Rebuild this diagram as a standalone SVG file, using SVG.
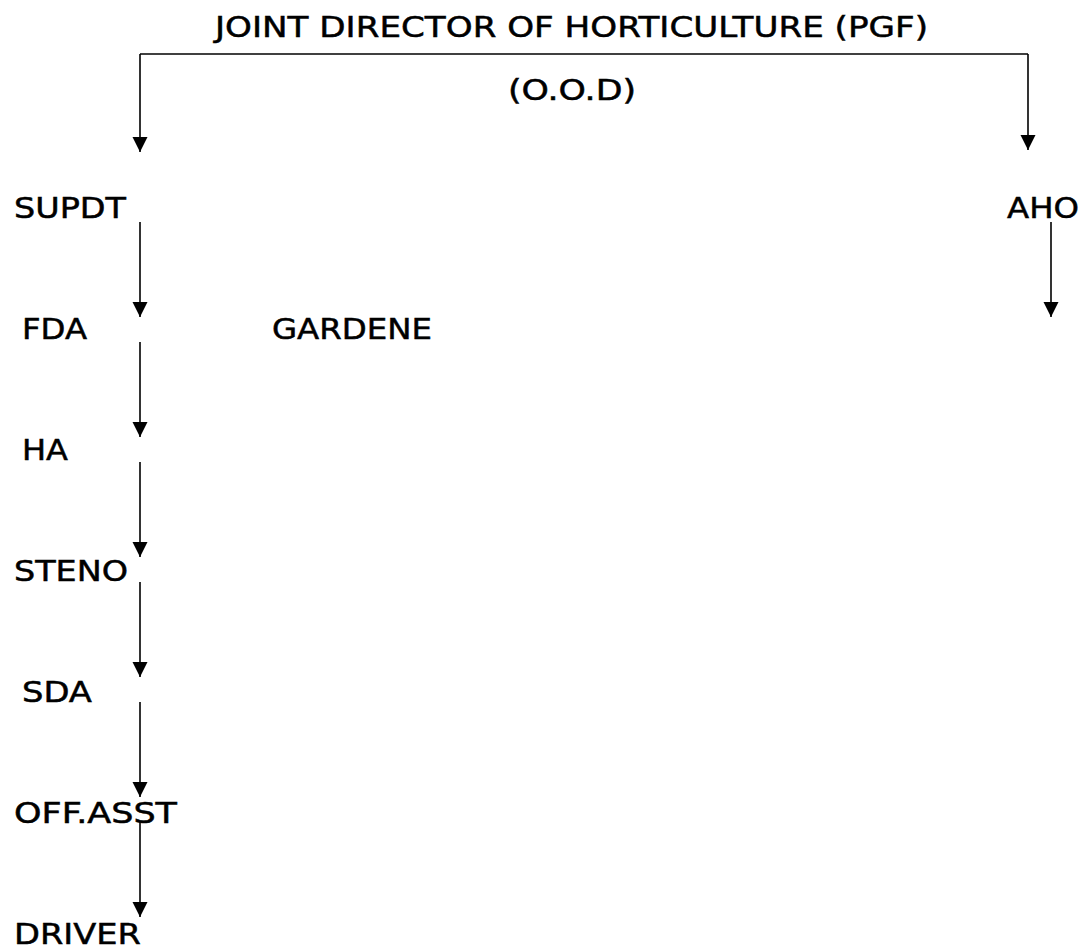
<svg xmlns="http://www.w3.org/2000/svg" width="1084" height="949" viewBox="0 0 1084 949">
<style>
text{font-family:"DejaVu Sans","Verdana",sans-serif;font-size:29px;fill:#000;stroke:#000;stroke-width:0.5}
.ln{stroke:#000;stroke-width:1.6;fill:none}
</style>
<defs>
<marker id="ah" markerUnits="userSpaceOnUse" markerWidth="16" markerHeight="16" refX="15" refY="7.5" orient="auto">
<path d="M0,0 L15,7.5 L0,15 Z" fill="#000"/>
</marker>
</defs>
<rect width="1084" height="949" fill="#fff"/>
<g id="connectors">
<line class="ln" x1="140" y1="54" x2="1028" y2="54"/>
<line class="ln" x1="140" y1="54" x2="140" y2="152" marker-end="url(#ah)"/>
<line class="ln" x1="1028" y1="54" x2="1028" y2="150" marker-end="url(#ah)"/>
<line class="ln" x1="140" y1="222" x2="140" y2="317" marker-end="url(#ah)"/>
<line class="ln" x1="140" y1="342" x2="140" y2="437" marker-end="url(#ah)"/>
<line class="ln" x1="140" y1="462" x2="140" y2="557" marker-end="url(#ah)"/>
<line class="ln" x1="140" y1="582" x2="140" y2="677" marker-end="url(#ah)"/>
<line class="ln" x1="140" y1="702" x2="140" y2="797" marker-end="url(#ah)"/>
<line class="ln" x1="140" y1="822" x2="140" y2="917" marker-end="url(#ah)"/>
<line class="ln" x1="1051" y1="222" x2="1051" y2="317" marker-end="url(#ah)"/>
</g>
<g id="jdh"><text x="215" y="37" textLength="713" lengthAdjust="spacingAndGlyphs">JOINT DIRECTOR OF HORTICULTURE (PGF)</text></g>
<g id="ood"><text x="508" y="100" textLength="128" lengthAdjust="spacingAndGlyphs">(O.O.D)</text></g>
<g id="supdt"><text x="14" y="218" textLength="112" lengthAdjust="spacingAndGlyphs">SUPDT</text></g>
<g id="aho"><text x="1007" y="218" textLength="72" lengthAdjust="spacingAndGlyphs">AHO</text></g>
<g id="fda"><text x="22" y="339" textLength="65" lengthAdjust="spacingAndGlyphs">FDA</text></g>
<g id="gardene"><text x="272" y="339" textLength="160" lengthAdjust="spacingAndGlyphs">GARDENE</text></g>
<g id="ha"><text x="22" y="460" textLength="46" lengthAdjust="spacingAndGlyphs">HA</text></g>
<g id="steno"><text x="14" y="581" textLength="114" lengthAdjust="spacingAndGlyphs">STENO</text></g>
<g id="sda"><text x="22" y="702" textLength="70" lengthAdjust="spacingAndGlyphs">SDA</text></g>
<g id="offasst"><text x="14" y="823" textLength="163" lengthAdjust="spacingAndGlyphs">OFF.ASST</text></g>
<g id="driver"><text x="14" y="944" textLength="127" lengthAdjust="spacingAndGlyphs">DRIVER</text></g>
</svg>
